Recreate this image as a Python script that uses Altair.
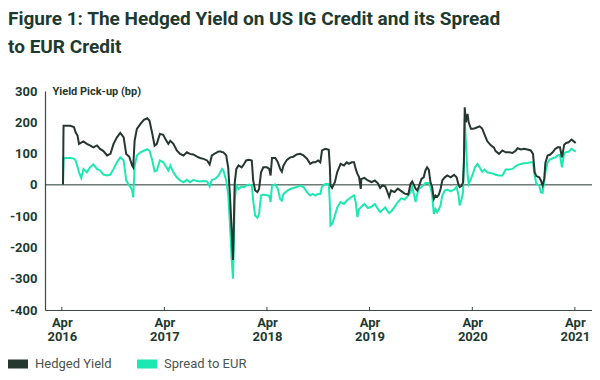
import altair as alt
import pandas as pd

title_lines = ["Figure 1: The Hedged Yield on US IG Credit and its Spread", "to EUR Credit"]
y_title = "Yield Pick-up (bp)"
series_names = ["Hedged Yield", "Spread to EUR"]
series_colors = ["#26372f", "#1de8b1"]

dates = [
    "2016-04-05", "2016-04-07", "2016-04-20", "2016-05-01", "2016-05-14", "2016-05-20", "2016-05-27",
    "2016-06-01", "2016-06-09", "2016-06-17", "2016-06-29", "2016-07-10", "2016-07-22", "2016-08-04",
    "2016-08-15", "2016-08-27", "2016-09-09", "2016-09-21", "2016-10-02", "2016-10-14", "2016-10-26",
    "2016-11-07", "2016-11-16", "2016-11-27", "2016-12-07", "2016-12-11", "2016-12-16", "2016-12-24",
    "2017-01-06", "2017-01-18", "2017-01-30", "2017-02-07", "2017-02-17", "2017-02-25", "2017-03-05",
    "2017-03-16", "2017-03-28", "2017-04-04", "2017-04-15", "2017-04-22", "2017-05-03", "2017-05-15",
    "2017-05-27", "2017-06-08", "2017-06-20", "2017-07-01", "2017-07-13", "2017-07-26", "2017-08-06",
    "2017-08-18", "2017-08-31", "2017-09-09", "2017-09-17", "2017-09-29", "2017-10-11", "2017-10-17",
    "2017-10-23", "2017-10-28", "2017-11-07", "2017-11-14", "2017-11-20", "2017-11-26", "2017-12-01",
    "2017-12-04", "2017-12-07", "2017-12-13", "2017-12-21", "2018-01-01", "2018-01-09", "2018-01-17",
    "2018-01-27", "2018-02-06", "2018-02-11", "2018-02-18", "2018-02-26", "2018-03-04", "2018-03-11",
    "2018-03-19", "2018-04-01", "2018-04-09", "2018-04-14", "2018-04-19", "2018-05-01", "2018-05-10",
    "2018-05-18", "2018-05-24", "2018-05-30", "2018-06-11", "2018-06-23", "2018-07-04", "2018-07-16",
    "2018-07-28", "2018-08-09", "2018-08-22", "2018-09-02", "2018-09-11", "2018-09-20", "2018-09-30",
    "2018-10-08", "2018-10-14", "2018-10-26", "2018-11-07", "2018-11-11", "2018-11-13", "2018-11-19",
    "2018-11-29", "2018-12-07", "2018-12-19", "2018-12-31", "2019-01-10", "2019-01-18", "2019-01-27",
    "2019-02-05", "2019-02-11", "2019-02-17", "2019-02-23", "2019-03-01", "2019-03-03", "2019-03-14",
    "2019-03-26", "2019-04-08", "2019-04-20", "2019-05-01", "2019-05-09", "2019-05-17", "2019-05-27",
    "2019-06-02", "2019-06-10", "2019-06-17", "2019-06-29", "2019-07-11", "2019-07-23", "2019-08-04",
    "2019-08-17", "2019-08-25", "2019-08-31", "2019-09-06", "2019-09-12", "2019-09-18", "2019-09-24",
    "2019-10-03", "2019-10-11", "2019-10-17", "2019-10-23", "2019-10-29", "2019-11-04", "2019-11-10",
    "2019-11-16", "2019-11-22", "2019-11-28", "2019-12-04", "2019-12-10", "2019-12-16", "2019-12-25",
    "2020-01-03", "2020-01-15", "2020-01-27", "2020-02-05", "2020-02-12", "2020-02-16", "2020-02-23",
    "2020-02-28", "2020-03-02", "2020-03-05", "2020-03-09", "2020-03-15", "2020-03-19", "2020-03-27",
    "2020-04-03", "2020-04-10", "2020-04-19", "2020-04-27", "2020-05-06", "2020-05-15", "2020-05-24",
    "2020-06-05", "2020-06-17", "2020-06-23", "2020-07-05", "2020-07-17", "2020-07-29", "2020-08-10",
    "2020-08-22", "2020-09-03", "2020-09-09", "2020-09-21", "2020-10-02", "2020-10-14", "2020-10-26",
    "2020-11-03", "2020-11-09", "2020-11-15", "2020-11-25", "2020-12-01", "2020-12-07", "2020-12-13",
    "2020-12-17", "2020-12-25", "2021-01-02", "2021-01-12", "2021-01-21", "2021-01-30", "2021-02-07",
    "2021-02-14", "2021-02-22", "2021-03-01", "2021-03-10", "2021-03-20", "2021-03-28", "2021-04-04",
]

hedged = [
    0, 189, 189, 189, 185, 168, 157,
    131, 135, 139, 131, 126, 120, 126,
    115, 108, 94, 99, 131, 152, 166,
    152, 99, 90, 62, 56, 141, 179,
    195, 208, 213, 205, 163, 125, 131,
    163, 160, 147, 131, 141, 131, 110,
    99, 94, 104, 99, 97, 90, 86,
    83, 78, 65, 94, 101, 107, 107,
    105, 104, 94, 56, -29, -135, -240,
    -135, 3, 51, 62, 56, 66, 78,
    80, 78, 14, -18, -23, -13, 40,
    56, 56, 51, 30, 86, 86, 72,
    51, 42, 62, 80, 88, 90, 97,
    99, 94, 83, 67, 72, 72, 78,
    72, 110, 115, 112, 56, -2, -10,
    9, 40, 67, 62, 72, 67, 72,
    72, 51, 35, 25, -13, 19, 22,
    14, 9, 14, 5, -10, -2, -5,
    -18, -38, -18, -23, -12, -20, -28,
    -31, 3, 11, 0, -12, -18, -5,
    19, 24, 46, 56, 49, 9, -7,
    -45, -34, -38, -31, -13, 14, 24,
    30, 24, 32, 24, 0, -7, -3,
    8, 72, 248, 200, 227, 200, 179,
    179, 181, 184, 187, 180, 160, 140,
    127, 119, 108, 99, 110, 104, 104,
    102, 110, 117, 113, 115, 113, 110,
    99, 40, 28, 24, 14, -2, 19,
    70, 94, 96, 104, 115, 120, 120,
    88, 128, 134, 136, 145, 139, 134,
]

spread = [
    0, 85, 86, 86, 84, 78, 56,
    40, 22, 51, 40, 56, 65, 51,
    46, 33, 30, 33, 51, 72, 88,
    78, 14, -2, -16, -40, 60, 94,
    104, 109, 114, 109, 78, 43, 46,
    78, 72, 62, 46, 62, 40, 24,
    14, 8, 16, 8, 16, 12, 11,
    12, 11, -5, 16, 19, 30, 40,
    51, 46, 14, -30, -120, -230, -300,
    -200, -50, -2, -13, -5, -8, -2,
    1, -2, -50, -98, -105, -93, -34,
    -31, -33, -35, -55, -2, 1, -13,
    -45, -50, -29, -20, -13, -10, -7,
    -2, -7, -24, -34, -29, -34, -29,
    -29, -5, 3, 3, -61, -130, -125,
    -98, -72, -55, -61, -50, -45, -38,
    -34, -55, -103, -77, -72, -70, -61,
    -74, -70, -61, -77, -87, -80, -72,
    -82, -90, -85, -71, -55, -43, -47,
    -34, -23, -7, -29, -55, -29, -13,
    -7, 0, 6, 6, 6, -5, -34,
    -93, -77, -87, -77, -66, -34, -18,
    -15, -21, -15, -7, -34, -66, -45,
    -23, 72, 211, 136, 35, 3, 19,
    35, 56, 67, 56, 42, 49, 40,
    38, 35, 32, 30, 30, 49, 49,
    51, 60, 63, 67, 69, 70, 72,
    72, 30, 3, -2, -24, -26, 10,
    40, 72, 81, 85, 88, 94, 96,
    56, 102, 104, 106, 115, 110, 106,
]

tick_dates = ["2016-04-01", "2017-04-01", "2018-04-01", "2019-04-01", "2020-04-01", "2021-04-01"]
y_ticks = [-400, -300, -200, -100, 0, 100, 200, 300]

df = pd.DataFrame({"date": dates, "hedged": hedged, "spread": spread})
ticks_df = pd.DataFrame({"date": tick_dates, "lo": [-400] * 6, "hi": [-390] * 6})
zero_df = pd.DataFrame({"z": [0]})
legend_df = pd.DataFrame({"series": series_names, "date": [dates[0]] * 2, "v": [0, 0]})

TEXT = "#1e3a2f"
AXIS = "#3b4a44"
FONT = "Roboto"

x_scale = alt.Scale(type="utc", domain=[alt.DateTime(year=2016, month=2, date=1, utc=True),
                                        alt.DateTime(year=2021, month=6, date=1, utc=True)])
y_scale = alt.Scale(domain=[-400, 300], nice=False, zero=False)

x_axis = alt.Axis(
    values=[alt.DateTime(year=int(d[:4]), month=4, date=1, utc=True) for d in tick_dates],
    labelExpr="[utcFormat(datum.value, '%b'), utcFormat(datum.value, '%Y')]",
    ticks=False, grid=False, domainColor=AXIS, domainWidth=1.2,
    labelFont=FONT, labelFontWeight="bold", labelFontSize=13, labelColor=TEXT,
    labelLineHeight=14, labelPadding=6, labelBaseline="top", labelAlign="center",
    labelFlush=False, labelOverlap=False, title=None,
)
y_axis = alt.Axis(
    values=y_ticks, ticks=False, grid=False, domainColor=AXIS, domainWidth=1.2,
    labelExpr="datum.value < 0 ? '-' + abs(datum.value) : '' + datum.value",
    labelFont=FONT, labelFontWeight="bold", labelFontSize=13, labelColor=TEXT,
    labelPadding=8, labelFlush=False, labelOverlap=False,
    title=y_title, titleAngle=0, titleAlign="left", titleBaseline="middle",
    titleX=7, titleY=0, titleFont=FONT, titleFontSize=11, titleFontWeight="bold", titleColor=TEXT,
)

X = alt.X("date:T", scale=x_scale, axis=x_axis)

zero_rule = alt.Chart(zero_df).mark_rule(color=series_colors[0], strokeWidth=1).encode(
    y=alt.Y("z:Q", scale=y_scale, axis=y_axis)
)

tick_rules = alt.Chart(ticks_df).mark_rule(color=AXIS, strokeWidth=1).encode(
    x=X, y=alt.Y("lo:Q", scale=y_scale, axis=y_axis), y2="hi:Q"
)

spread_line = alt.Chart(df).mark_line(color=series_colors[1], strokeWidth=2).encode(
    x=X, y=alt.Y("spread:Q", scale=y_scale, axis=y_axis)
)
hedged_line = alt.Chart(df).mark_line(color=series_colors[0], strokeWidth=2).encode(
    x=X, y=alt.Y("hedged:Q", scale=y_scale, axis=y_axis)
)

legend_layer = alt.Chart(legend_df).mark_point(filled=True, opacity=0).encode(
    x=X,
    y=alt.Y("v:Q", scale=y_scale, axis=y_axis),
    color=alt.Color(
        "series:N",
        scale=alt.Scale(domain=series_names, range=series_colors),
        legend=alt.Legend(
            title=None, orient="none", direction="horizontal", legendX=-37, legendY=263,
            symbolType="M-1,-0.45H1V0.45H-1Z", symbolSize=400, symbolOpacity=1,
            symbolStrokeWidth=0, labelFont=FONT, labelFontSize=13, labelColor="#4a5450",
            labelOffset=7, columnPadding=25, padding=0,
        ),
    ),
)

chart = alt.layer(zero_rule, tick_rules, spread_line, hedged_line, legend_layer).properties(
    width=547,
    height=219,
    padding={"left": 37, "top": 83, "right": 0, "bottom": 62},
    autosize=alt.AutoSizeParams(type="none"),
    title=alt.TitleParams(
        text=title_lines, anchor="start", frame="bounds", font=FONT, fontSize=19,
        fontWeight="bold", color=TEXT, lineHeight=28, offset=28,
    ),
).configure_view(stroke=None).configure_axis(labelOverlap=False)

chart.save("out.html", embed_options={"renderer": "svg", "actions": False})
